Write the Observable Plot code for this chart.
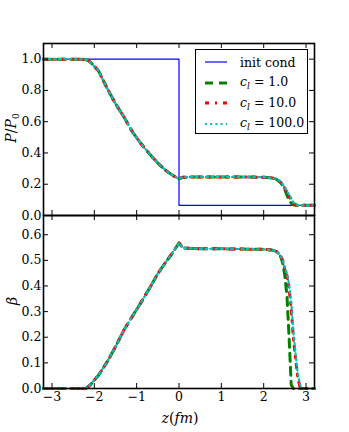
<!DOCTYPE html>
<html><head><meta charset="utf-8">
<script src="https://cdn.jsdelivr.net/npm/d3@7"></script>
<script src="https://cdn.jsdelivr.net/npm/@observablehq/plot@0.6"></script>
<style>
body{margin:0;background:#fff;}
#fig{position:relative;width:349px;height:432px;font-family:"DejaVu Serif",serif;color:#000;}
.panel{position:absolute;left:0;}
.lab{position:absolute;font-size:14px;white-space:nowrap;transform:translate(-50%,-50%);}
.rot{transform:translate(-50%,-50%) rotate(-90deg);}
#legend{position:absolute;left:195px;top:49px;width:113px;height:85px;border:1px solid #000;background:#fff;box-sizing:border-box;}
.row{position:absolute;left:0;height:20px;display:flex;align-items:center;font-size:12.5px;white-space:nowrap;}
.row svg{margin-left:9px;margin-right:13px;flex:none;}
sub{font-size:9px;vertical-align:-3px;}
svg text{font-family:"DejaVu Serif",serif;}
</style></head><body><div id="fig"></div><script>
// ---- data ----
const xTicks = [-3, -2, -1, 0, 1, 2, 3];
const yTicksTop = [0, 0.2, 0.4, 0.6, 0.8, 1.0];
const yTicksBot = [0, 0.1, 0.2, 0.3, 0.4, 0.5, 0.6];

const zInit = [-3.2, 0, 0, 3.2];
const pInit = [1, 1, 0.065, 0.065];

const zGrid = [-3.2, -2.6, -2.2, -2.1, -1.9, -1.7, -1.5, -1.3, -1.1, -0.9, -0.7, -0.5, -0.3, -0.14, 0, 0.1, 0.5, 1.0, 1.5, 2.0, 2.2, 2.3, 2.4, 2.45, 2.5, 2.55, 2.6, 2.65, 2.7, 2.75, 2.8, 2.85, 2.9, 3.0, 3.2];

const pC1   = [1, 1, 0.998, 0.983, 0.925, 0.815, 0.715, 0.63, 0.535, 0.46, 0.395, 0.335, 0.285, 0.255, 0.235, 0.245, 0.247, 0.247, 0.246, 0.245, 0.24, 0.232, 0.21, 0.19, 0.165, 0.13, 0.10, 0.078, 0.068, 0.066, 0.065, 0.065, 0.065, 0.065, 0.065];
const pC10  = [1, 1, 0.998, 0.983, 0.925, 0.815, 0.715, 0.63, 0.535, 0.46, 0.395, 0.335, 0.285, 0.255, 0.235, 0.245, 0.247, 0.247, 0.246, 0.245, 0.24, 0.234, 0.215, 0.196, 0.175, 0.147, 0.125, 0.10, 0.078, 0.069, 0.066, 0.065, 0.065, 0.065, 0.065];
const pC100 = [1, 1, 0.998, 0.983, 0.925, 0.815, 0.715, 0.63, 0.535, 0.46, 0.395, 0.335, 0.285, 0.255, 0.235, 0.245, 0.247, 0.247, 0.246, 0.245, 0.24, 0.235, 0.218, 0.20, 0.18, 0.155, 0.135, 0.11, 0.085, 0.072, 0.067, 0.065, 0.065, 0.065, 0.065];

const bC1   = [0, 0, 0, 0.013, 0.052, 0.103, 0.163, 0.228, 0.282, 0.335, 0.39, 0.448, 0.496, 0.532, 0.568, 0.548, 0.545, 0.545, 0.544, 0.543, 0.54, 0.535, 0.515, 0.49, 0.44, 0.36, 0.20, 0.015, 0, 0, 0, 0, 0, 0, 0];
const bC10  = [0, 0, 0, 0.013, 0.052, 0.103, 0.163, 0.228, 0.282, 0.335, 0.39, 0.448, 0.496, 0.532, 0.568, 0.548, 0.545, 0.545, 0.544, 0.543, 0.54, 0.535, 0.52, 0.5, 0.465, 0.44, 0.39, 0.31, 0.20, 0.12, 0.05, 0.01, 0, 0, 0];
const bC100 = [0, 0, 0, 0.013, 0.052, 0.103, 0.163, 0.228, 0.282, 0.335, 0.39, 0.448, 0.496, 0.532, 0.568, 0.548, 0.545, 0.545, 0.544, 0.543, 0.54, 0.535, 0.52, 0.5, 0.47, 0.45, 0.405, 0.34, 0.225, 0.14, 0.065, 0.02, 0, 0, 0];

const seriesNames = ["init cond", "c_l = 1.0", "c_l = 10.0", "c_l = 100.0"];
// ---- styles ----
const S = {
  init: {stroke: "#0000ff", strokeWidth: 1.2},
  c1:   {stroke: "#008000", strokeWidth: 3, strokeDasharray: "8,6"},
  c10:  {stroke: "#ff0000", strokeWidth: 3, strokeDasharray: "4,6,2,6"},
  c100: {stroke: "#00bfbf", strokeWidth: 2.2, strokeDasharray: "2,3.2"}
};

const W = 349, ML = 43, MR = 35;
const plotW = W - ML - MR;
const tickLen = 5;
const FONT = "'DejaVu Serif', serif";
const fmtX = d => d.toFixed(0).replace("-", "\u2212");
const fmtY = d => d.toFixed(1);
const plotStyle = {background: "transparent", fontFamily: FONT, fontSize: "12.5px", color: "#000", overflow: "visible"};

const tbl = (zs, vs) => zs.map((z, i) => ({z, v: vs[i]}));

function frameTicks(plotH, yTicks) {
  return [
    Plot.tickX(xTicks, {x: d => d, insetTop: plotH - tickLen, stroke: "#000"}),
    Plot.tickX(xTicks, {x: d => d, insetBottom: plotH - tickLen, stroke: "#000"}),
    Plot.tickY(yTicks, {y: d => d, insetRight: plotW - tickLen, stroke: "#000"}),
    Plot.tickY(yTicks, {y: d => d, insetLeft: plotW - tickLen, stroke: "#000"}),
    Plot.frame({stroke: "#000", strokeWidth: 1.6})
  ];
}
const axisText = {fontSize: 12.5, fontFamily: FONT, fill: "#000", label: null, tickSize: 0};

const topH = 216, topMT = 43, topMB = 1;
const topPlot = Plot.plot({
  width: W, height: topH, marginLeft: ML, marginRight: MR, marginTop: topMT, marginBottom: topMB,
  style: plotStyle,
  x: {domain: [-3.2, 3.2], axis: null},
  y: {domain: [0, 1.1]},
  marks: [
    Plot.line(tbl(zInit, pInit), {x: "z", y: "v", ...S.init}),
    Plot.line(tbl(zGrid, pC1), {x: "z", y: "v", ...S.c1}),
    Plot.line(tbl(zGrid, pC10), {x: "z", y: "v", ...S.c10}),
    Plot.line(tbl(zGrid, pC100), {x: "z", y: "v", ...S.c100}),
    ...frameTicks(topH - topMT - topMB, yTicksTop),
    Plot.axisY(yTicksTop, {...axisText, tickPadding: 2, tickFormat: fmtY})
  ]
});

const botH = 217, botMT = 0, botMB = 44;
const botPlot = Plot.plot({
  width: W, height: botH, marginLeft: ML, marginRight: MR, marginTop: botMT, marginBottom: botMB,
  style: plotStyle,
  x: {domain: [-3.2, 3.2]},
  y: {domain: [0, 0.675]},
  marks: [
    Plot.line(tbl(zGrid, bC1), {x: "z", y: "v", ...S.c1}),
    Plot.line(tbl(zGrid, bC10), {x: "z", y: "v", ...S.c10}),
    Plot.line(tbl(zGrid, bC100), {x: "z", y: "v", ...S.c100}),
    ...frameTicks(botH - botMT - botMB, yTicksBot),
    Plot.axisY(yTicksBot, {...axisText, tickPadding: 2, tickFormat: fmtY}),
    Plot.axisX(xTicks, {...axisText, tickPadding: 4, tickFormat: fmtX})
  ]
});

const fig = document.getElementById("fig");
topPlot.classList.add("panel"); topPlot.style.top = "0px";
botPlot.classList.add("panel"); botPlot.style.top = "215px";
fig.appendChild(topPlot);
fig.appendChild(botPlot);

function addLabel(html, x, y, rot) {
  const d = document.createElement("div");
  d.className = "lab" + (rot ? " rot" : "");
  d.style.left = x + "px"; d.style.top = y + "px";
  d.innerHTML = html;
  fig.appendChild(d);
}
addLabel("<i>P</i>/<i>P</i><sub>0</sub>", 12, 128, true);
addLabel("<i>\u03b2</i>", 12, 301, true);
addLabel("<i>z</i>(<i>fm</i>)", 180, 418, false);

// legend
const leg = document.createElement("div");
leg.id = "legend";
const keys = ["init", "c1", "c10", "c100"];
keys.forEach((k, i) => {
  const r = document.createElement("div");
  r.className = "row";
  r.style.top = (2 + i * 20.5) + "px";
  const s = S[k];
  const name = seriesNames[i];
  const label = name.startsWith("c_l")
    ? "<i>c</i><sub><i>l</i></sub> = " + name.split("= ")[1]
    : name;
  r.innerHTML = `<svg width="22" height="8"><line x1="0" x2="22" y1="4" y2="4" stroke="${s.stroke}" stroke-width="${s.strokeWidth}" ${s.strokeDasharray ? `stroke-dasharray="${s.strokeDasharray}"` : ""}/></svg><span>${label}</span>`;
  leg.appendChild(r);
});
fig.appendChild(leg);
</script></body></html>
